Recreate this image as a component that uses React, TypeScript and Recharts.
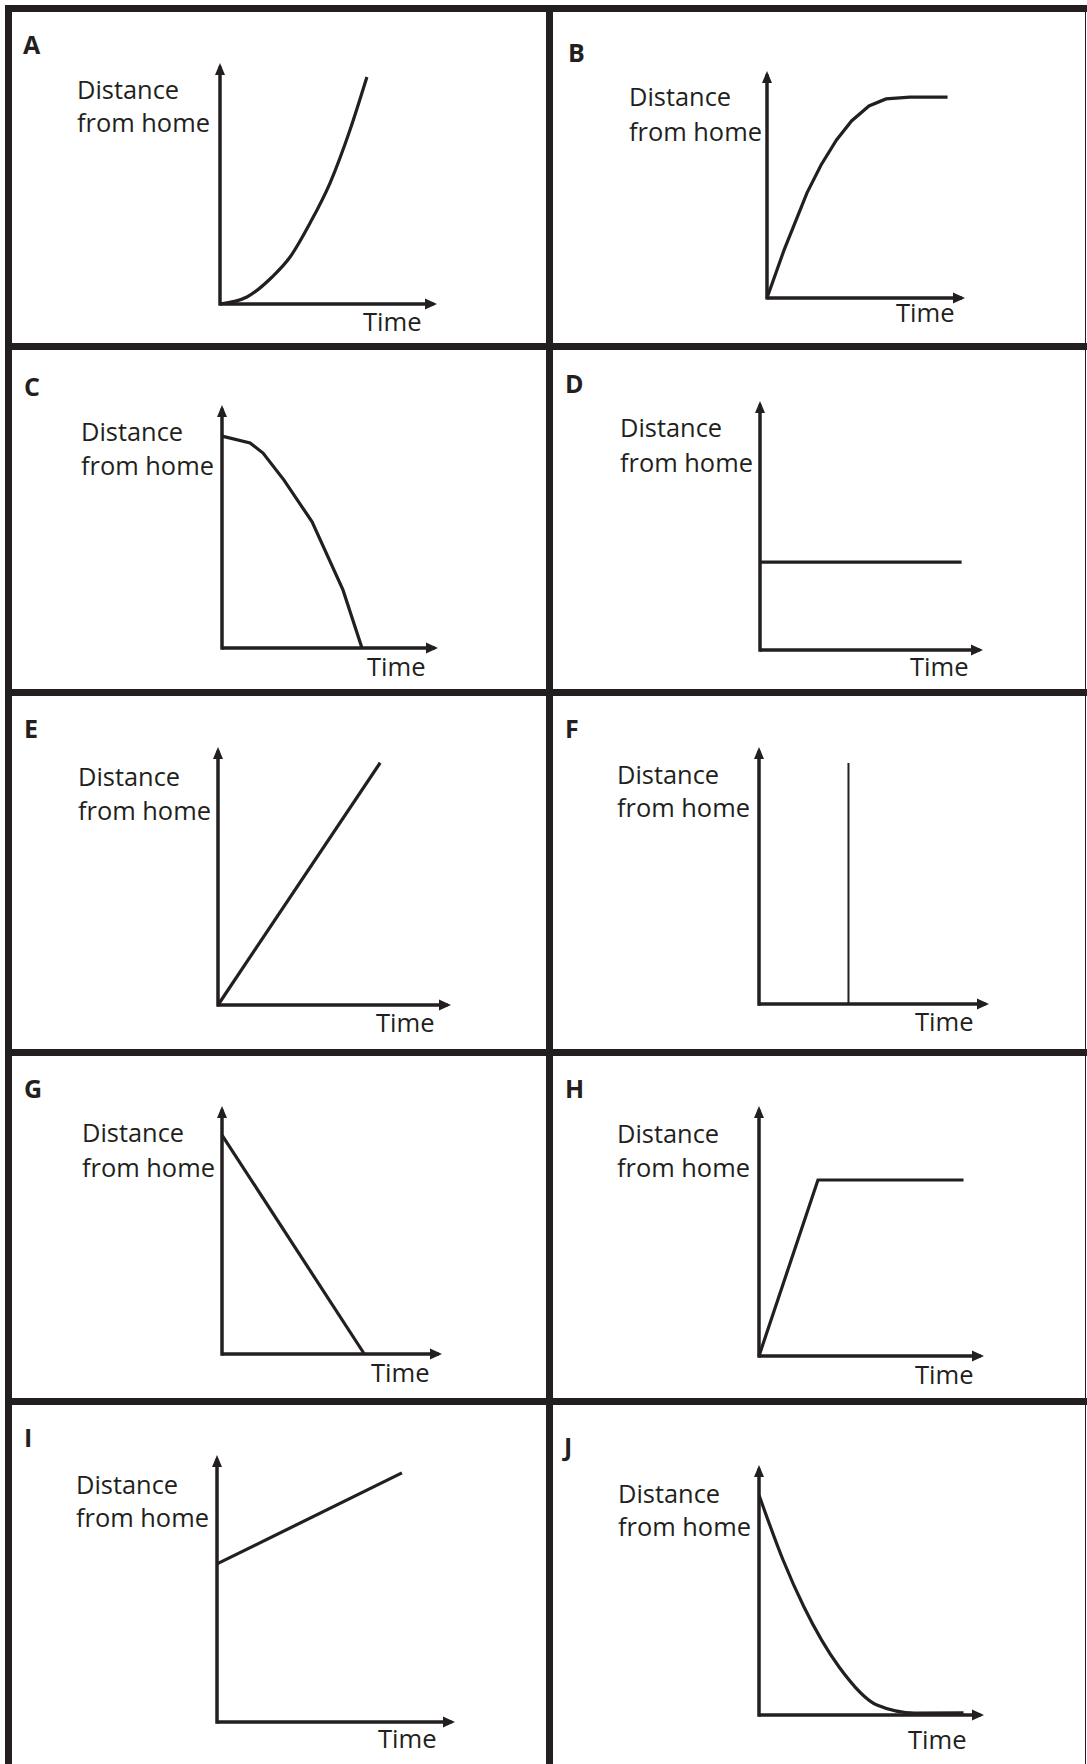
import { LineChart, Line, XAxis, YAxis, ReferenceDot, ReferenceLine } from 'recharts';

const panelLetters = ['A', 'B', 'C', 'D', 'E', 'F', 'G', 'H', 'I', 'J'];
const yAxisLabel = ['Distance', 'from home'];
const xAxisLabel = 'Time';

// time / distance, both axes run 0..10 (10 = arrow tip)
const curveA = [
  { time: 0, distance: 0 },
  { time: 1.24, distance: 0.29 },
  { time: 2.4, distance: 1.12 },
  { time: 3.23, distance: 1.95 },
  { time: 4.15, distance: 3.36 },
  { time: 5.07, distance: 5.02 },
  { time: 5.99, distance: 7.22 },
  { time: 6.77, distance: 9.42 },
];
const curveB = [
  { time: 0, distance: 0 },
  { time: 0.86, distance: 2.11 },
  { time: 2.02, distance: 4.63 },
  { time: 2.73, distance: 5.86 },
  { time: 3.51, distance: 6.96 },
  { time: 4.27, distance: 7.8 },
  { time: 5.15, distance: 8.46 },
  { time: 6.01, distance: 8.77 },
  { time: 7.22, distance: 8.85 },
  { time: 9.12, distance: 8.85 },
];
const curveC = [
  { time: 0, distance: 8.72 },
  { time: 1.3, distance: 8.44 },
  { time: 1.9, distance: 8.02 },
  { time: 2.87, distance: 6.91 },
  { time: 4.17, distance: 5.19 },
  { time: 5.6, distance: 2.39 },
  { time: 6.48, distance: 0 },
];
const lineD = [
  { time: 0, distance: 3.53 },
  { time: 9.04, distance: 3.53 },
];
const lineE = [
  { time: 0, distance: 0 },
  { time: 6.96, distance: 9.39 },
];
const lineF = [
  { time: 3.89, distance: 0 },
  { time: 3.89, distance: 9.38 },
];
const lineG = [
  { time: 0, distance: 8.83 },
  { time: 6.47, distance: 0 },
];
const lineH = [
  { time: 0, distance: 0 },
  { time: 2.62, distance: 7.04 },
  { time: 9.09, distance: 7.04 },
];
const lineI = [
  { time: 0, distance: 5.92 },
  { time: 7.77, distance: 9.33 },
];
const curveJ = [
  { time: 0, distance: 8.8 },
  { time: 1.07, distance: 6.2 },
  { time: 2.0, distance: 4.32 },
  { time: 3.56, distance: 1.92 },
  { time: 5.24, distance: 0.4 },
  { time: 6.93, distance: 0.08 },
  { time: 9.09, distance: 0.09 },
];

const panelData = [curveA, curveB, curveC, lineD, lineE, lineF, lineG, lineH, lineI, curveJ];
const panelCurve = ['monotone', 'linear', 'linear', 'linear', 'linear', 'linear', 'linear', 'linear', 'linear', 'monotone'];

const INK = '#231f20';
const FONT = '"Open Sans", "Noto Sans", sans-serif';
const PAD = 12;
const AXIS_END = 9.85; // axis stroke stops just under the arrowhead

// page placement: axis origin, arrow tips, then text anchors (x, baseline)
const layout = [
  { ox: 220, oy: 304, xTip: 437, yTip: 63, letter: [23, 54], dist: [77, 100, 133], time: [363, 332] },
  { ox: 767, oy: 298, xTip: 965, yTip: 71, letter: [568, 62], dist: [629, 107, 142], time: [896, 323] },
  { ox: 222, oy: 648, xTip: 438, yTip: 405, letter: [24, 396], dist: [81, 442, 476], time: [367, 677] },
  { ox: 760, oy: 650, xTip: 983, yTip: 401, letter: [565, 393], dist: [620, 438, 473], time: [910, 677] },
  { ox: 218, oy: 1005, xTip: 451, yTip: 747, letter: [24, 738], dist: [78, 787, 821], time: [376, 1033] },
  { ox: 759, oy: 1004, xTip: 989, yTip: 747, letter: [565, 738], dist: [617, 785, 818], time: [915, 1032] },
  { ox: 222, oy: 1354, xTip: 442, yTip: 1106, letter: [24, 1098], dist: [82, 1143, 1178], time: [371, 1383] },
  { ox: 759, oy: 1356, xTip: 984, yTip: 1106, letter: [565, 1098], dist: [617, 1144, 1178], time: [915, 1385] },
  { ox: 217, oy: 1722, xTip: 455, yTip: 1455, letter: [24, 1447], dist: [76, 1495, 1528], time: [378, 1749] },
  { ox: 759, oy: 1715, xTip: 984, yTip: 1465, letter: [564, 1456], dist: [618, 1504, 1537], time: [908, 1750] },
];

function ArrowRight(props: any) {
  const { cx, cy } = props;
  return <path d={`M${cx},${cy} L${cx - 12},${cy - 5.5} L${cx - 12},${cy + 5.5} Z`} fill={INK} />;
}

function ArrowUp(props: any) {
  const { cx, cy } = props;
  return <path d={`M${cx},${cy} L${cx - 5},${cy + 12} L${cx + 5},${cy + 12} Z`} fill={INK} />;
}

function Txt({ x, baseline, size, bold, children }: any) {
  return (
    <div
      style={{
        position: 'absolute',
        left: x,
        top: baseline - 0.888 * size,
        fontFamily: FONT,
        fontSize: size,
        lineHeight: `${size}px`,
        fontWeight: bold ? 700 : 400,
        color: INK,
        whiteSpace: 'nowrap',
      }}
    >
      {children}
    </div>
  );
}

function Panel({ i }: { i: number }) {
  const L = layout[i];
  const w = L.xTip - L.ox;
  const h = L.oy - L.yTip;
  return (
    <>
      <div style={{ position: 'absolute', left: L.ox - PAD, top: L.yTip - PAD }}>
        <LineChart
          width={w + PAD * 2}
          height={h + PAD * 2}
          data={panelData[i]}
          margin={{ top: PAD, right: PAD, bottom: PAD, left: PAD }}
        >
          <XAxis type="number" dataKey="time" domain={[0, 10]} hide />
          <YAxis type="number" domain={[0, 10]} hide />
          <ReferenceLine
            segment={[{ x: 0, y: 0 }, { x: AXIS_END, y: 0 }]}
            stroke={INK}
            strokeWidth={3.5}
            ifOverflow="visible"
          />
          <ReferenceLine
            segment={[{ x: 0, y: -0.07 }, { x: 0, y: AXIS_END }]}
            stroke={INK}
            strokeWidth={3.5}
            ifOverflow="visible"
          />
          <Line
            dataKey="distance"
            type={panelCurve[i] as any}
            stroke={INK}
            strokeWidth={i === 5 ? 2 : 3.2}
            dot={false}
            activeDot={false}
            isAnimationActive={false}
          />
          <ReferenceDot x={10} y={0} r={0} ifOverflow="visible" shape={ArrowRight} />
          <ReferenceDot x={0} y={10} r={0} ifOverflow="visible" shape={ArrowUp} />
        </LineChart>
      </div>
      <Txt x={L.letter[0]} baseline={L.letter[1]} size={25} bold>
        {panelLetters[i]}
      </Txt>
      <Txt x={L.dist[0]} baseline={L.dist[1]} size={25.4}>
        {yAxisLabel[0]}
      </Txt>
      <Txt x={L.dist[0]} baseline={L.dist[2]} size={25.4}>
        {yAxisLabel[1]}
      </Txt>
      <Txt x={L.time[0]} baseline={L.time[1]} size={25.6}>
        {xAxisLabel}
      </Txt>
    </>
  );
}

const rule = (left: number, top: number, width: number, height: number) => (
  <div key={`${left}-${top}`} style={{ position: 'absolute', left, top, width, height, background: INK }} />
);

export default function App() {
  return (
    <div style={{ position: 'absolute', left: 0, top: 0, width: 1087, height: 1764, background: '#fff', overflow: 'hidden' }}>
      {rule(5, 5, 1082, 7)}
      {rule(5, 5, 7, 1759)}
      {rule(546, 5, 7, 1759)}
      {rule(5, 343, 1082, 7)}
      {rule(5, 689, 1082, 7)}
      {rule(5, 1049, 1082, 7)}
      {rule(5, 1398, 1082, 7)}
      {rule(1085, 5, 1, 1759)}
      {panelLetters.map((_, i) => (
        <Panel key={i} i={i} />
      ))}
    </div>
  );
}
